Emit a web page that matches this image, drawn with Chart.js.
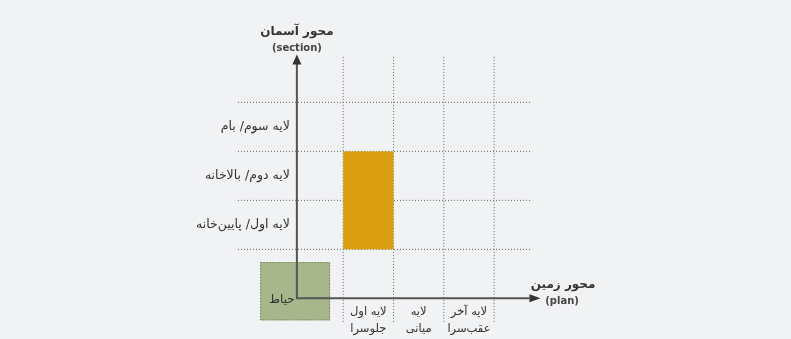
<!DOCTYPE html>
<html>
<head>
<meta charset="utf-8">
<script src="https://cdn.jsdelivr.net/npm/chart.js@4/dist/chart.umd.min.js"></script>
<style>
  html, body { margin: 0; padding: 0; background: #f1f2f4; }
  #wrap { width: 791px; height: 339px; position: relative; }
</style>
</head>
<body>
<div id="wrap"><canvas id="diagram"></canvas></div>
<script>
// rows of the section axis, bottom to top (each row spans value i..i+1)
const layerLabels = ['لایه اول/ پایین\u200cخانه', 'لایه دوم/ بالاخانه', 'لایه سوم/ بام'];
// columns of the plan axis, front to back (each column spans value i..i+1)
const planLabels = [['لایه اول', 'جلوسرا'], ['لایه', 'میانی'], ['لایه آخر', 'عقب\u200cسرا']];
// dotted guide positions
const gridCols = [1, 2, 3, 4];
const gridRows = [1, 2, 3, 4];
// built volume: plan column 1, section layers 1 to 3
const builtCols = [1, 2];
const builtRows = [1, 3];
// courtyard block around the origin
const yardLabel = 'حیاط';
const yardCols = [-0.65, 0.74];
const yardRows = [-0.45, 0.74];
// axis titles
const sectionTitle = ['محور آسمان', '(section)'];
const planTitle = ['محور زمین', '(plan)'];

const persianFont = "'DejaVu Sans', sans-serif";
const ink = '#333';

// dotted guides as line datasets
const guideStyle = { borderColor: '#666', borderWidth: 1, borderDash: [1, 2], pointRadius: 0, fill: false };
const datasets = [];
gridCols.forEach(c => datasets.push({ ...guideStyle, data: [{ x: c, y: -0.48 }, { x: c, y: 4.93 }] }));
gridRows.forEach(r => datasets.push({ ...guideStyle, data: [{ x: -1.09, y: r }, { x: 4.73, y: r }] }));

function arrowHead(ctx, tipX, tipY, dir) {
    ctx.beginPath();
    if (dir === 'up') {
        ctx.moveTo(tipX, tipY);
        ctx.lineTo(tipX - 4.5, tipY + 10);
        ctx.lineTo(tipX + 4.5, tipY + 10);
    } else {
        ctx.moveTo(tipX, tipY);
        ctx.lineTo(tipX - 11, tipY - 4);
        ctx.lineTo(tipX - 11, tipY + 4);
    }
    ctx.closePath();
    ctx.fill();
}

const sketch = {
    id: 'sketch',
    afterDatasetsDraw(chart) {
        const { ctx, scales: { x, y } } = chart;
        const px = v => x.getPixelForValue(v);
        const py = v => y.getPixelForValue(v);
        ctx.save();

        // built volume
        ctx.fillStyle = '#d89e10';
        ctx.fillRect(px(builtCols[0]), py(builtRows[1]), px(builtCols[1]) - px(builtCols[0]), py(builtRows[0]) - py(builtRows[1]));

        // courtyard
        const yx = px(yardCols[0]), yy = py(yardRows[1]);
        const yw = px(yardCols[1]) - yx, yh = py(yardRows[0]) - yy;
        ctx.fillStyle = '#a7b78b';
        ctx.fillRect(yx, yy, yw, yh);
        ctx.strokeStyle = '#5f6f48';
        ctx.lineWidth = 1;
        ctx.setLineDash([1, 2]);
        ctx.strokeRect(yx + 0.5, yy + 0.5, yw - 1, yh - 1);
        ctx.setLineDash([]);

        // axes
        const ox = px(0.08), oy = py(0);
        ctx.strokeStyle = '#555';
        ctx.fillStyle = '#333';
        ctx.lineWidth = 2;
        ctx.beginPath();
        ctx.moveTo(ox, oy);
        ctx.lineTo(ox, py(4.8));
        ctx.moveTo(ox - 1, oy);
        ctx.lineTo(px(4.7), oy);
        ctx.stroke();
        arrowHead(ctx, ox, py(4.98), 'up');
        arrowHead(ctx, px(4.92), oy, 'right');

        // text
        ctx.fillStyle = ink;
        ctx.textBaseline = 'middle';
        ctx.direction = 'rtl';
        ctx.font = '12.5px ' + persianFont;
        ctx.textAlign = 'right';
        layerLabels.forEach((t, i) => ctx.fillText(t, px(-0.06), py(i + 1.5)));

        ctx.font = '11.5px ' + persianFont;
        ctx.textAlign = 'center';
        planLabels.forEach((lines, i) => {
            lines.forEach((t, k) => ctx.fillText(t, px(i + 1.5), py(-0.28 - k * 0.35)));
        });
        ctx.font = '12px ' + persianFont;
        ctx.fillText(yardLabel, px(-0.22), py(-0.03));

        ctx.font = 'bold 12px ' + persianFont;
        ctx.fillText(sectionTitle[0], ox, py(5.43));
        ctx.fillText(planTitle[0], px(5.37), py(0.28));
        ctx.direction = 'ltr';
        ctx.font = 'bold 10px ' + persianFont;
        ctx.fillStyle = '#444';
        ctx.fillText(sectionTitle[1], ox, py(5.1));
        ctx.fillText(planTitle[1], px(5.35), py(-0.07));
        ctx.restore();
    }
};

new Chart(document.getElementById('diagram').getContext('2d'), {
    type: 'line',
    data: { datasets },
    options: {
        responsive: true,
        maintainAspectRatio: false,
        animation: false,
        layout: { padding: 0 },
        plugins: { legend: { display: false }, tooltip: { enabled: false } },
        scales: {
            x: { type: 'linear', min: -5.82, max: 9.9, display: false },
            y: { type: 'linear', min: -0.83, max: 6.09, display: false }
        }
    },
    plugins: [sketch]
});
</script>
</body>
</html>
